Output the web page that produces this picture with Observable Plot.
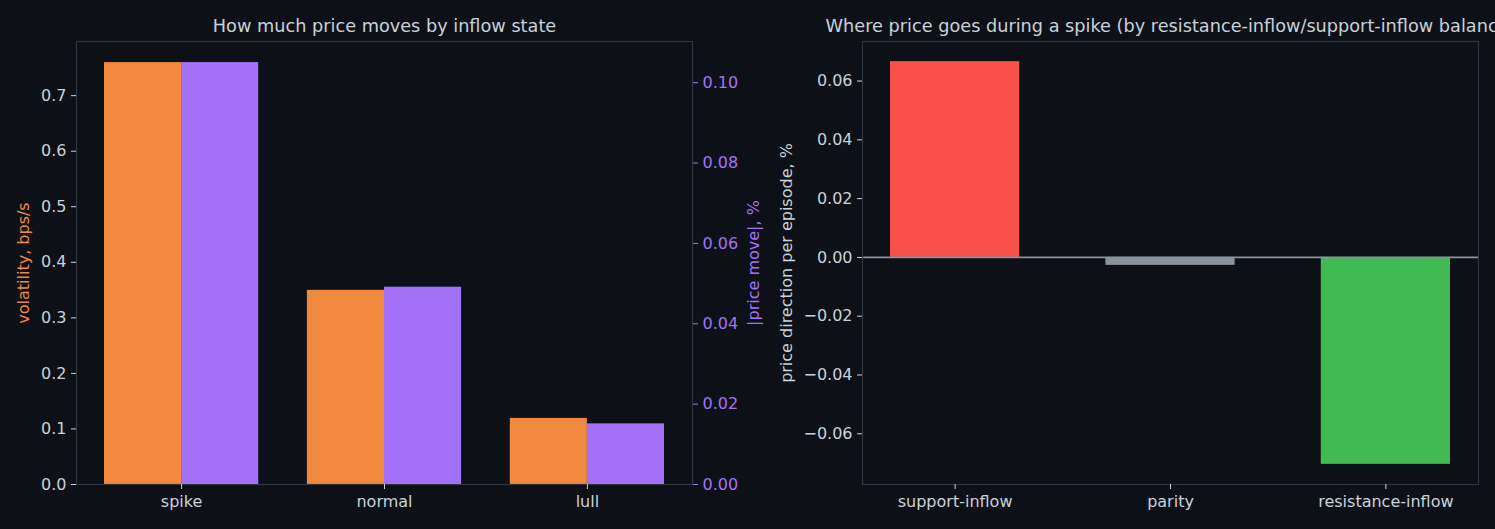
<!DOCTYPE html>
<html>
<head>
<meta charset="utf-8">
<script src="https://cdn.jsdelivr.net/npm/d3@7"></script>
<script src="https://cdn.jsdelivr.net/npm/@observablehq/plot@0.6"></script>
<style>
  html, body { margin: 0; padding: 0; background: #0d1117; overflow: hidden; }
  #fig { position: relative; width: 1495px; height: 529px; background: #0d1117; overflow: hidden; }
</style>
</head>
<body>
<div id="fig"></div>
<script>
// Inflow states and the two magnitude measures per state
const states = ["spike", "normal", "lull"];
const volatility = [0.7595, 0.3495, 0.119];      // bps/s
const priceMove = [0.105, 0.0491, 0.0151];       // |price move|, %

// Spike episodes grouped by resistance/support inflow balance
const balances = ["support-inflow", "parity", "resistance-inflow"];
const direction = [0.0666, -0.0027, -0.0704];    // price direction per episode, %

// Tick values
const volTicks = [0, 0.1, 0.2, 0.3, 0.4, 0.5, 0.6, 0.7];
const moveTicks = [0, 0.02, 0.04, 0.06, 0.08, 0.10];
const dirTicks = [-0.06, -0.04, -0.02, 0, 0.02, 0.04, 0.06];

// Palette
const TEXT = "#c9d1d9";
const SPINE = "#30363d";
const ORANGE = "#f0883e";
const PURPLE = "#a371f7";
const RED = "#f85149";
const GRAY = "#8b949e";
const GREEN = "#3fb950";

const FONT = "'DejaVu Sans', 'Liberation Sans', sans-serif";
const TICK_SIZE = 16;
const LABEL_SIZE = 16;
const TITLE_SIZE = 17.7;

const style = (left) => ({
  position: "absolute", left: `${left}px`, top: "0px", overflow: "visible",
  background: "transparent", fontFamily: FONT, fontSize: `${TICK_SIZE}px`, color: TEXT
});

// x domain in category units, padded by 5% like a default autoscaled axis
function catDomain(n, half) {
  const lo = -half, hi = n - 1 + half, pad = 0.05 * (hi - lo);
  return [lo - pad, hi + pad];
}

const GROUP_HALF = 0.38;   // each bar of a pair is this wide
const BAR_HALF = 0.3;      // half-width of single bars

const leftDims = {width: 760, height: 529, marginLeft: 76, marginRight: 68, marginTop: 41, marginBottom: 45};
const rightDims = {width: 735, height: 529, marginLeft: 102, marginRight: 17, marginTop: 41, marginBottom: 45};

const volRows = states.map((s, i) => ({i, v: volatility[i]}));
const moveRows = states.map((s, i) => ({i, v: priceMove[i]}));
const dirRows = balances.map((b, i) => ({i, b, v: direction[i]}));

const leftX = catDomain(states.length, GROUP_HALF);

const yLabel = (text, anchor, dx, fill) =>
  Plot.text([text], {text: d => d, frameAnchor: anchor, dx, rotate: -90, textAnchor: "middle",
    lineAnchor: "middle", fill, fontSize: LABEL_SIZE});

const title = (text) =>
  Plot.text([text], {text: d => d, frameAnchor: "top", dy: -10, textAnchor: "middle",
    lineAnchor: "bottom", fill: TEXT, fontSize: TITLE_SIZE});

// Left panel, primary axis: volatility
const volPlot = Plot.plot({
  ...leftDims,
  style: style(0),
  x: {domain: leftX},
  y: {domain: [0, d3.max(volatility) * 1.05]},
  marks: [
    Plot.rect(volRows, {x1: d => d.i - GROUP_HALF, x2: d => d.i, y1: () => 0, y2: d => d.v, fill: ORANGE}),
    Plot.frame({stroke: SPINE, strokeWidth: 1.2}),
    Plot.axisX({ticks: states.map((s, i) => i), tickFormat: i => states[i], tickSize: 5, tickPadding: 6,
      color: TEXT, label: null}),
    Plot.axisY({anchor: "left", ticks: volTicks, tickFormat: d3.format(".1f"), tickSize: 5, tickPadding: 5,
      color: TEXT, label: null}),
    yLabel("volatility, bps/s", "left", -53, ORANGE),
    title("How much price moves by inflow state")
  ]
});

// Left panel, secondary axis: |price move|, drawn on its own y scale
const movePlot = Plot.plot({
  ...leftDims,
  style: style(0),
  x: {domain: leftX, axis: null},
  y: {domain: [0, d3.max(priceMove) * 1.05]},
  marks: [
    Plot.rect(moveRows, {x1: d => d.i, x2: d => d.i + GROUP_HALF, y1: () => 0, y2: d => d.v, fill: PURPLE}),
    Plot.axisY({anchor: "right", ticks: moveTicks, tickFormat: d3.format(".2f"), tickSize: 5, tickPadding: 5,
      color: PURPLE, label: null}),
    yLabel("|price move|, %", "right", 61, PURPLE)
  ]
});

// Right panel: signed price direction per balance bucket
const dirMin = d3.min(direction), dirMax = d3.max(direction), dirPad = 0.05 * (dirMax - dirMin);
const dirPlot = Plot.plot({
  ...rightDims,
  style: style(760),
  x: {domain: catDomain(balances.length, BAR_HALF)},
  y: {domain: [dirMin - dirPad, dirMax + dirPad]},
  color: {domain: balances, range: [RED, GRAY, GREEN]},
  marks: [
    Plot.rect(dirRows, {x1: d => d.i - BAR_HALF, x2: d => d.i + BAR_HALF, y1: () => 0, y2: d => d.v, fill: d => d.b}),
    Plot.ruleY([0], {stroke: GRAY, strokeWidth: 1.6}),
    Plot.frame({stroke: SPINE, strokeWidth: 1.2}),
    Plot.axisX({ticks: balances.map((b, i) => i), tickFormat: i => balances[i], tickSize: 5, tickPadding: 6,
      color: TEXT, label: null}),
    Plot.axisY({anchor: "left", ticks: dirTicks, tickFormat: d3.format(".2f"), tickSize: 5, tickPadding: 5,
      color: TEXT, label: null}),
    yLabel("price direction per episode, %", "left", -76, TEXT),
    title("Where price goes during a spike (by resistance-inflow/support-inflow balance)")
  ]
});

document.getElementById("fig").append(volPlot, movePlot, dirPlot);
</script>
</body>
</html>
